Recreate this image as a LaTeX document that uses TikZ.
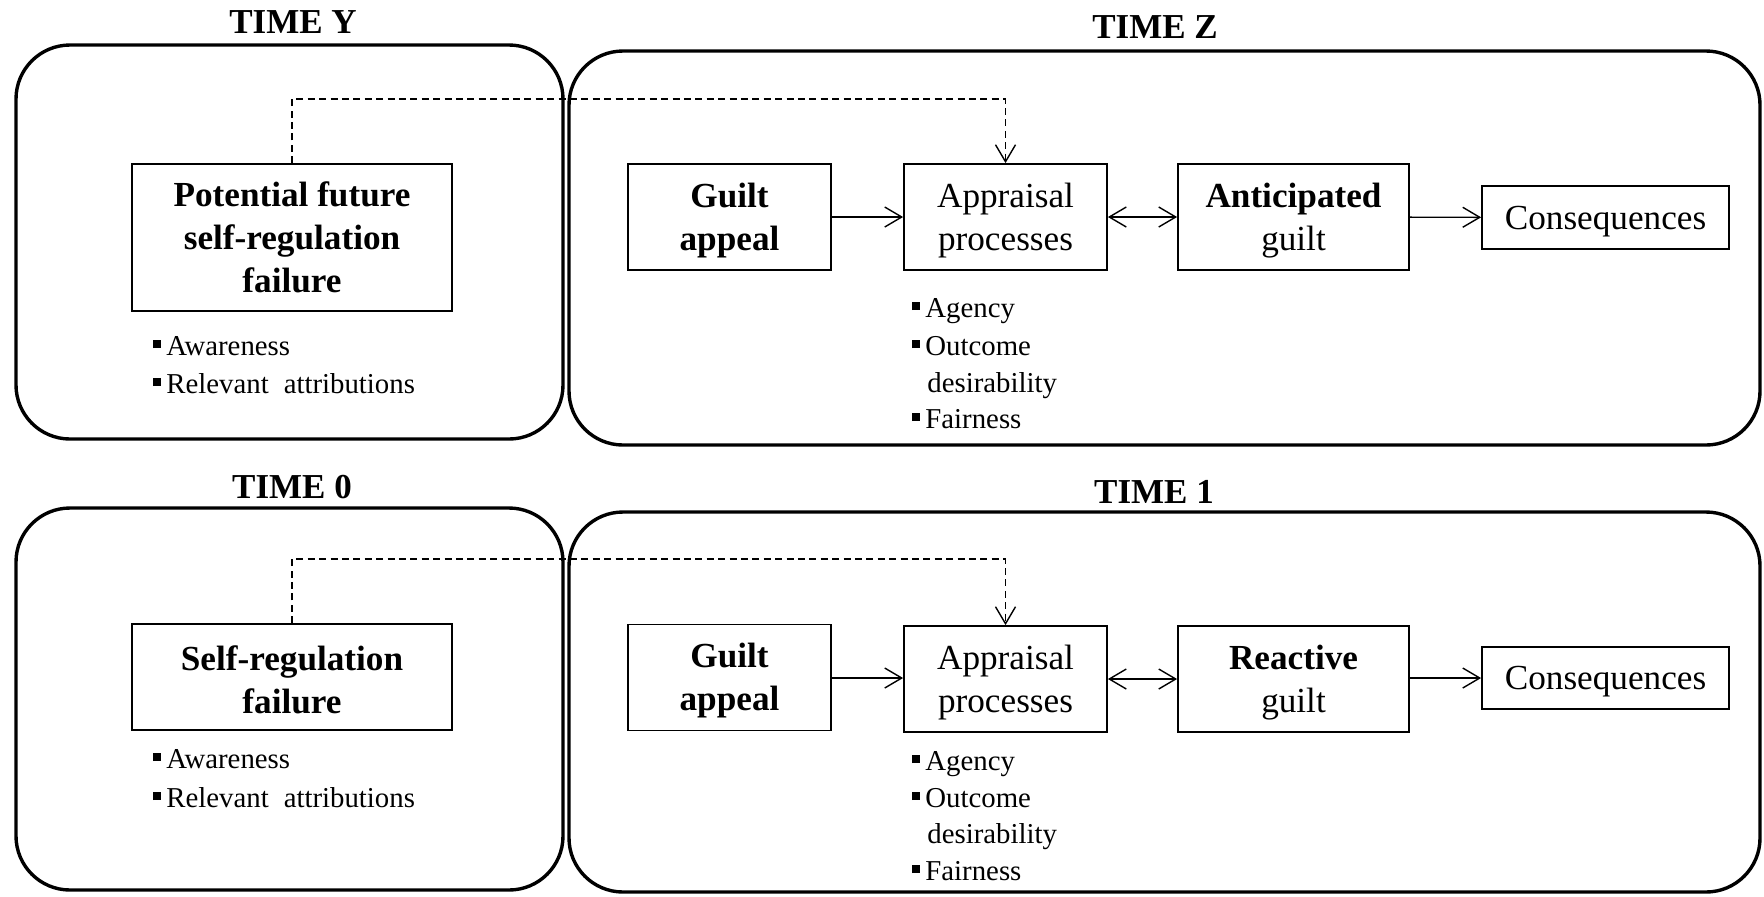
\documentclass[tikz,border=0pt]{standalone}
\usepackage{fontspec}
\setmainfont{Liberation Serif}
\usetikzlibrary{arrows.meta}
\newcommand{\bsq}{\rule[3.5pt]{4pt}{4pt}\hspace{2.5pt}}
\newcommand{\tstrut}{\rule{0pt}{15.5pt}}
\begin{document}
\begin{tikzpicture}[x=0.5pt,y=-0.5pt,
  outer/.style={line width=1.7pt, rounded corners=27pt},
  ttl/.style={font=\fontsize{17.5}{21}\selectfont\bfseries, inner sep=0pt},
  box/.style={draw, line width=0.9pt, inner sep=0pt, align=center, font=\fontsize{17.6}{21.5}\selectfont},
  bul/.style={anchor=base west, inner sep=0pt, font=\fontsize{14.4}{18}\selectfont},
  arr/.style={line width=0.7pt, -{Straight Barb[length=8.5pt,width=10pt]}},
  darr/.style={line width=0.7pt, {Straight Barb[length=8.5pt,width=10pt]}-{Straight Barb[length=8.5pt,width=10pt]}},
  dashedarr/.style={line width=0.7pt, dash pattern=on 3.5pt off 2.2pt, -{Straight Barb[length=8.5pt,width=10pt]}}
]
\useasboundingbox (0,0) rectangle (1764,896);

% ---------- top row ----------
\node[ttl] (tY) at (293,22.5) {TIME Y};
\node[ttl] (tZ) at (1155,27.5) {TIME Z};
\draw[outer] (16,45) rectangle (563,439);
\draw[outer] (569,51) rectangle (1760,445);

\node[box, minimum width=160pt, minimum height=73.5pt] (pot) at (292,237.5)
  {\bfseries Potential future\\\bfseries self-regulation\\\bfseries failure};
\node[bul] (pa1) at (153,355) {\bsq Awareness};
\node[bul] (pa2) at (153,393) {\bsq Relevant\hspace{7.5pt}attributions};

\node[box, minimum width=101.5pt, minimum height=53pt] (ga1) at (729.5,217) {\tstrut\bfseries Guilt\\\bfseries appeal};
\node[box, minimum width=101.5pt, minimum height=53pt] (ap1) at (1005.5,217) {\tstrut Appraisal\\processes};
\node[box, minimum width=115.5pt, minimum height=53pt] (an1) at (1293.5,217) {\tstrut{\bfseries Anticipated}\\guilt};
\node[box, minimum width=123.5pt, minimum height=31.5pt] (co1) at (1605.5,217.5) {\tstrut Consequences};

\node[bul] (b11) at (912,317) {\bsq Agency};
\node[bul] (b12) at (912,355) {\bsq Outcome};
\node[bul] (b13) at (927,392) {desirability};
\node[bul] (b14) at (912,428) {\bsq Fairness};

\draw[arr] (ga1) -- (ap1);
\draw[darr] (ap1) -- (an1);
\draw[arr] (an1) -- (co1);
\coordinate (d1) at (0,99);
\draw[dashedarr] (pot.north) -- (pot.north |- d1) -| (ap1.north);

% ---------- bottom row ----------
\node[ttl] (t0) at (292,487) {TIME 0};
\node[ttl] (t1) at (1154,491.5) {TIME 1};
\draw[outer] (16,508) rectangle (563,890);
\draw[outer] (569,512) rectangle (1760,892);

\node[box, minimum width=160pt, minimum height=53pt] (srf) at (292,677)
  {\tstrut\bfseries Self-regulation\\\bfseries failure};
\node[bul] (sa1) at (153,768) {\bsq Awareness};
\node[bul] (sa2) at (153,807) {\bsq Relevant\hspace{7.5pt}attributions};

\node[box, minimum width=101.5pt, minimum height=53pt] (ga2) at (729.5,677.5) {\tstrut\bfseries Guilt\\\bfseries appeal};
\node[box, minimum width=101.5pt, minimum height=53pt] (ap2) at (1005.5,679) {\tstrut Appraisal\\processes};
\node[box, minimum width=115.5pt, minimum height=53pt] (re2) at (1293.5,679) {\tstrut{\bfseries Reactive}\\guilt};
\node[box, minimum width=123.5pt, minimum height=31pt] (co2) at (1605.5,678) {\tstrut Consequences};

\node[bul] (b21) at (912,770) {\bsq Agency};
\node[bul] (b22) at (912,807) {\bsq Outcome};
\node[bul] (b23) at (927,843) {desirability};
\node[bul] (b24) at (912,880) {\bsq Fairness};

\coordinate (h2) at (0,678);
\draw[arr] (ga2.east |- h2) -- (ap2.west |- h2);
\draw[darr] (ap2) -- (re2);
\draw[arr] (re2.east |- h2) -- (co2.west |- h2);
\coordinate (d2) at (0,559);
\draw[dashedarr] (srf.north) -- (srf.north |- d2) -| (ap2.north);
\end{tikzpicture}
\end{document}
